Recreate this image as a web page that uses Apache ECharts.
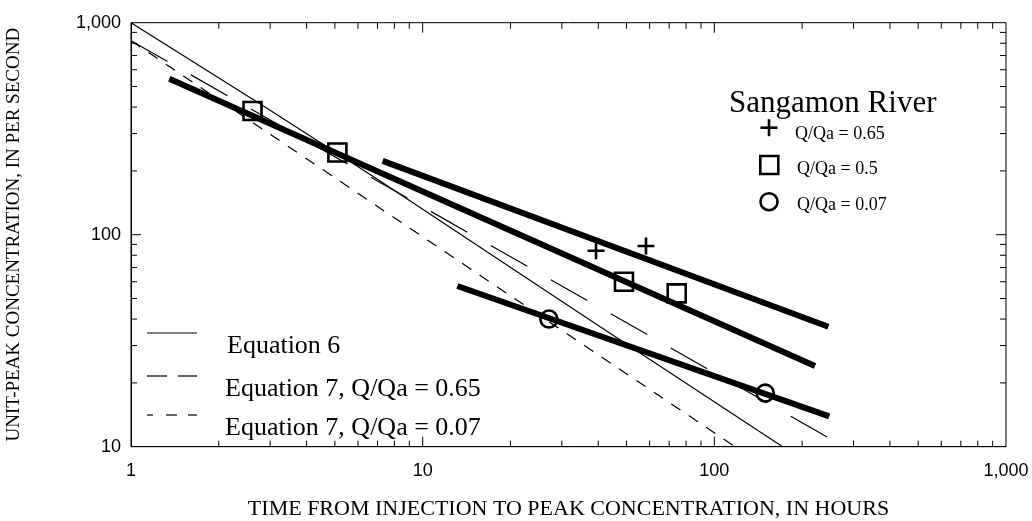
<!DOCTYPE html>
<html>
<head>
<meta charset="utf-8">
<title>Unit-peak concentration, Sangamon River</title>
<script src="https://cdn.jsdelivr.net/npm/echarts@6/dist/echarts.min.js"></script>
<style>
  html, body { margin: 0; padding: 0; background: #fff; }
  #chart { width: 1032px; height: 521px; }
</style>
</head>
<body>
<div id="chart"></div>
<script>
// Tick values on the log axes
const xTickLabels = [1, 10, 100, 1000];
const yTickLabels = [10, 100, 1000];
const xMinorTicks = [2, 3, 4, 5, 6, 7, 8, 9, 20, 30, 40, 50, 60, 70, 80, 90, 200, 300, 400, 500, 600, 700, 800, 900];
const xMajorTicks = [10, 100];
const yMinorTicks = [20, 30, 40, 50, 60, 70, 80, 90, 200, 300, 400, 500, 600, 700, 800, 900];
const yMajorTicks = [100];

// Measured unit-peak concentrations, Sangamon River [hours, per second]
const obsQ065 = [[39.3, 84.0], [58.3, 88.4]];
const obsQ05 = [[2.61, 383], [5.10, 244], [49.0, 60.0], [74.3, 52.9]];
const obsQ007 = [[27.1, 40.0], [149.5, 17.9]];

// Fitted lines through the Sangamon River measurements
const fitQ065 = [[7.29, 223], [246, 36.8]];
const fitQ05 = [[1.353, 544], [221.4, 24.0]];
const fitQ007 = [[13.15, 57.3], [247.8, 13.9]];

// Prediction curves
const eq6 = [[1, 1000], [2.81, 409], [6.77, 188], [40.6, 36.8], [171.5, 10]];
const eq7Q065 = [[1, 822], [279, 10]];
const eq7Q007 = [[1, 822], [117.7, 10]];

const SERIF = '"Liberation Serif", "Times New Roman", serif';
const SANS = '"Liberation Sans", Arial, sans-serif';

const chart = echarts.init(document.getElementById('chart'), null, { renderer: 'canvas' });

function tickSeries(values, dir, len) {
  // dir 'x': ticks on bottom and top edges; dir 'y': ticks on left and right edges
  return {
    type: 'custom',
    silent: true,
    clip: false,
    z: 5,
    data: values.map(v => dir === 'x' ? [v, 10] : [1, v]),
    renderItem: function (params, api) {
      const st = { stroke: '#000', lineWidth: 1 };
      if (dir === 'x') {
        const v = api.value(0);
        const b = api.coord([v, 10]);
        const t = api.coord([v, 1000]);
        return { type: 'group', children: [
          { type: 'line', shape: { x1: b[0], y1: b[1], x2: b[0], y2: b[1] - len }, style: st },
          { type: 'line', shape: { x1: t[0], y1: t[1], x2: t[0], y2: t[1] + len }, style: st }
        ] };
      } else {
        const v = api.value(1);
        const l = api.coord([1, v]);
        const r = api.coord([1000, v]);
        return { type: 'group', children: [
          { type: 'line', shape: { x1: l[0], y1: l[1], x2: l[0] + len, y2: l[1] }, style: st },
          { type: 'line', shape: { x1: r[0], y1: r[1], x2: r[0] - len, y2: r[1] }, style: st }
        ] };
      }
    }
  };
}

function lineSeries(name, data, width, dash) {
  return {
    name: name,
    type: 'line',
    data: data,
    showSymbol: false,
    silent: true,
    z: width > 3 ? 3 : 2,
    lineStyle: { color: '#000', width: width, type: dash, cap: 'butt', opacity: 1 },
    animation: false
  };
}

function markerSeries(name, data, symbol, size) {
  return {
    name: name,
    type: 'scatter',
    data: data,
    symbol: symbol,
    symbolSize: size,
    z: 4,
    silent: true,
    itemStyle: symbol === 'rect' || symbol === 'circle'
      ? { color: 'rgba(0,0,0,0)', borderColor: '#000', borderWidth: 2.6, opacity: 1 }
      : { color: '#000', opacity: 1 },
    animation: false
  };
}

const PLUS = 'path://M7.2,0 h2.6 v17 h-2.6 z M0,7.2 h17 v2.6 h-17 z';

const option = {
  animation: false,
  backgroundColor: '#fff',
  grid: {
    left: 131, right: 26, top: 22.7, bottom: 74.3,
    containLabel: false, outerBoundsMode: 'none',
    show: true, borderColor: '#000', borderWidth: 1, backgroundColor: 'transparent'
  },
  xAxis: {
    type: 'log', logBase: 10, min: 1, max: 1000,
    name: 'TIME FROM INJECTION TO PEAK CONCENTRATION, IN HOURS',
    nameLocation: 'middle', nameGap: 52,
    nameTextStyle: { fontFamily: SERIF, fontSize: 22, color: '#000' },
    axisLine: { show: true, lineStyle: { color: '#000', width: 1 } },
    axisTick: { show: false },
    splitLine: { show: false },
    axisLabel: {
      margin: 15, fontFamily: SANS, fontSize: 18, color: '#000',
      formatter: v => xTickLabels.indexOf(Math.round(v)) >= 0 ? Math.round(v).toLocaleString('en-US') : ''
    }
  },
  yAxis: {
    type: 'log', logBase: 10, min: 10, max: 1000,
    name: 'UNIT-PEAK CONCENTRATION, IN PER SECOND',
    nameLocation: 'middle', nameGap: 107, nameRotate: 90,
    nameTextStyle: { fontFamily: SERIF, fontSize: 19, color: '#000' },
    axisLine: { show: true, lineStyle: { color: '#000', width: 1 } },
    axisTick: { show: false },
    splitLine: { show: false },
    axisLabel: {
      margin: 10, fontFamily: SANS, fontSize: 18, color: '#000',
      formatter: v => yTickLabels.indexOf(Math.round(v)) >= 0 ? Math.round(v).toLocaleString('en-US') : ''
    }
  },
  series: [
    tickSeries(xMinorTicks, 'x', 6),
    tickSeries(xMajorTicks, 'x', 10),
    tickSeries(yMinorTicks, 'y', 6),
    tickSeries(yMajorTicks, 'y', 10),
    lineSeries('Equation 6', eq6, 1.2, 'solid'),
    lineSeries('Equation 7, Q/Qa = 0.65', eq7Q065, 1.2, [42, 27]),
    lineSeries('Equation 7, Q/Qa = 0.07', eq7Q007, 1.2, [11, 10]),
    lineSeries('Fit Q/Qa = 0.65', fitQ065, 6, 'solid'),
    lineSeries('Fit Q/Qa = 0.5', fitQ05, 6, 'solid'),
    lineSeries('Fit Q/Qa = 0.07', fitQ007, 6, 'solid'),
    markerSeries('Q/Qa = 0.65', obsQ065, PLUS, 17),
    markerSeries('Q/Qa = 0.5', obsQ05, 'rect', 18),
    markerSeries('Q/Qa = 0.07', obsQ007, 'circle', 17)
  ],
  graphic: [
    // Sangamon River key
    { type: 'text', left: 729, top: 88, style: { text: 'Sangamon River', font: '31px ' + SERIF, fill: '#000', textVerticalAlign: 'middle' } },
    { type: 'group', left: 760.5, top: 119.2, children: [
      { type: 'rect', shape: { x: 7.2, y: 0, width: 2.6, height: 17 }, style: { fill: '#000' } },
      { type: 'rect', shape: { x: 0, y: 7.2, width: 17, height: 2.6 }, style: { fill: '#000' } }
    ] },
    { type: 'text', left: 795, top: 125.7, style: { text: 'Q/Qa = 0.65', font: '18px ' + SERIF, fill: '#000', textVerticalAlign: 'middle' } },
    { type: 'rect', shape: { x: 760.3, y: 156, width: 18, height: 18 }, style: { fill: 'none', stroke: '#000', lineWidth: 2.6 } },
    { type: 'text', left: 797, top: 160, style: { text: 'Q/Qa = 0.5', font: '18px ' + SERIF, fill: '#000', textVerticalAlign: 'middle' } },
    { type: 'circle', shape: { cx: 769, cy: 201.7, r: 8.5 }, style: { fill: 'none', stroke: '#000', lineWidth: 2.6 } },
    { type: 'text', left: 797, top: 196.7, style: { text: 'Q/Qa = 0.07', font: '18px ' + SERIF, fill: '#000', textVerticalAlign: 'middle' } },

    // Equation key
    { type: 'line', shape: { x1: 147, y1: 333, x2: 197, y2: 333 }, style: { stroke: '#000', lineWidth: 1.2 } },
    { type: 'text', left: 227, top: 333, style: { text: 'Equation 6', font: '26px ' + SERIF, fill: '#000', textVerticalAlign: 'middle' } },
    { type: 'line', shape: { x1: 147, y1: 376, x2: 167, y2: 376 }, style: { stroke: '#000', lineWidth: 1.2 } },
    { type: 'line', shape: { x1: 178, y1: 376, x2: 197, y2: 376 }, style: { stroke: '#000', lineWidth: 1.2 } },
    { type: 'text', left: 225, top: 376, style: { text: 'Equation 7, Q/Qa = 0.65', font: '26px ' + SERIF, fill: '#000', textVerticalAlign: 'middle' } },
    { type: 'line', shape: { x1: 147, y1: 415, x2: 153, y2: 415 }, style: { stroke: '#000', lineWidth: 1.2 } },
    { type: 'line', shape: { x1: 166, y1: 415, x2: 177, y2: 415 }, style: { stroke: '#000', lineWidth: 1.2 } },
    { type: 'line', shape: { x1: 188, y1: 415, x2: 197, y2: 415 }, style: { stroke: '#000', lineWidth: 1.2 } },
    { type: 'text', left: 225, top: 415, style: { text: 'Equation 7, Q/Qa = 0.07', font: '26px ' + SERIF, fill: '#000', textVerticalAlign: 'middle' } }
  ]
};

chart.setOption(option);
</script>
</body>
</html>
